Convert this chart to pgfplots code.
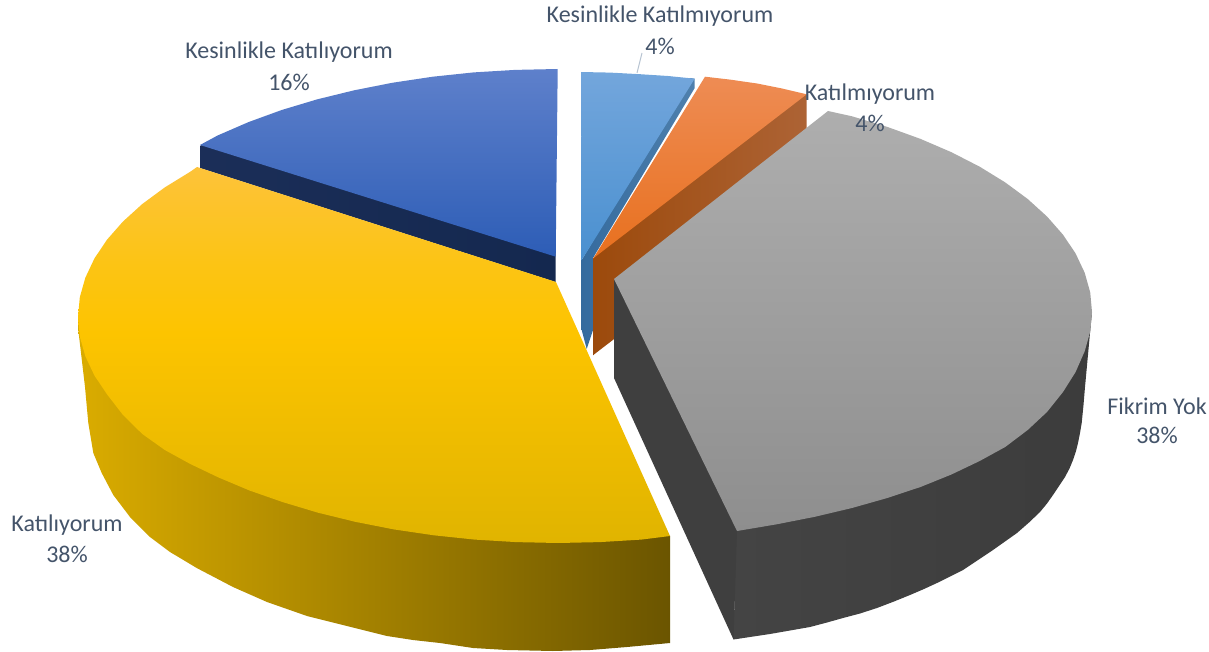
\documentclass[border=0pt]{standalone}
\usepackage{pgfplots}
\pgfplotsset{compat=1.18}
\usepackage{fontspec}
\setmainfont{Carlito}
\definecolor{lab}{HTML}{44546A}
\pgfdeclareverticalshading{yeltop}{100bp}{
  color(0bp)=(rgb,255:red,224;green,180;blue,0);
  color(25bp)=(rgb,255:red,224;green,180;blue,0);
  color(53bp)=(rgb,255:red,253;green,196;blue,0);
  color(62bp)=(rgb,255:red,252;green,196;blue,20);
  color(75bp)=(rgb,255:red,253;green,195;blue,58);
  color(100bp)=(rgb,255:red,253;green,195;blue,58)}
\tikzset{lb/.style={lab,font=\fontsize{24}{26}\selectfont}}
\begin{document}
\begin{tikzpicture}
\path[use as bounding box] (0,0) rectangle (1209pt,652pt);
\begin{axis}[at={(0,0)},anchor=south west,scale only axis,width=1209pt,height=652pt,
  xmin=0,xmax=1209,ymin=0,ymax=652,y dir=reverse,axis lines=none,clip=false,
  every axis plot/.append style={draw=none,no markers,line join=round}]
% Kesinlikle Katilmiyorum: side, top
\addplot[left color={rgb,255:red,53;green,107;blue,158},right color={rgb,255:red,79;green,128;blue,173}] coordinates {(690,78)(694.7,78.7)(694.7,88)(593,258)(593,330)(586.7,349)(581.7,330)(581.7,260)} --cycle;
\addplot[top color={rgb,255:red,115;green,166;blue,220},middle color={rgb,255:red,90;green,155;blue,216},bottom color={rgb,255:red,74;green,144;blue,208}] coordinates {(581,72)(610,72.6)(640,74.2)(668,76)(694.7,78.7)(581.7,260)} --cycle;
\addplot[draw={rgb,255:red,184;green,196;blue,210},line width=1pt] coordinates {(637,73)(642,53)};
% Katilmiyorum: side, top
\addplot[left color={rgb,255:red,156;green,74;blue,12},right color={rgb,255:red,173;green,99;blue,53}] coordinates {(800,95)(806.7,94.3)(806.7,191)(593.3,355)(593.3,258.3)(600,250)} --cycle;
\addplot[top color={rgb,255:red,238;green,140;blue,84},middle color={rgb,255:red,240;green,122;blue,40},bottom color={rgb,255:red,232;green,112;blue,30}] coordinates {(705,76.7)(730,79.6)(757,83.5)(782,88.5)(806.7,94.3)(593.3,258.3)} --cycle;
% Fikrim Yok: curved side, flat side, top
\addplot[left color={rgb,255:red,68;green,68;blue,68},right color={rgb,255:red,60;green,60;blue,60}] coordinates {(733.5,639.5)(750,637)(770,634)(790,630.5)(810,627)(827,622.5)(843,618)(860,613.5)(877,608)(894,601.5)(910,595)(924,589)(937,583)(950,576.5)(963,570)(978,560)(993,550)(1005,541.5)(1017,533)(1029,522.5)(1040,512)(1047,503.5)(1053,495)(1059,486)(1065,477)(1069.5,468.5)(1073,460)(1076,451)(1078,443)(1080,433)(1081.7,423)(1083.5,405)(1085,387)(1087.5,360)(1090,333)(1092,312)(737,500)} --cycle;
\addplot[fill={rgb,255:red,63;green,63;blue,63}] coordinates {(614,279)(614,378)(733.5,639.5)(737,531)(737,500)} --cycle;
\addplot[top color={rgb,255:red,174;green,174;blue,174},bottom color={rgb,255:red,142;green,142;blue,142}] coordinates {(614,279)(828,111)(852,116.3)(887.3,126.9)(920.5,138.9)(951.4,152.2)(979.7,166.7)(1005.2,182.4)(1027.7,199)(1047,216.5)(1063,234.7)(1075.6,253.5)(1084.7,272.8)(1090.2,292.3)(1092,312)(1090.2,331.7)(1084.7,351.2)(1075.6,372)(1063,392)(1047,412)(1027.7,430)(1005.2,447)(979.7,461)(951.4,474.5)(920.5,487)(887.3,498)(852,508)(814.8,516.8)(776.2,524.4)(737,531)} --cycle;
% Kesinlikle Katiliyorum: side, top
\addplot[left color={rgb,255:red,27;green,46;blue,88},right color={rgb,255:red,20;green,40;blue,79}] coordinates {(212,140)(200,146)(200,168)(555.7,282)(555.7,250)} --cycle;
\addplot[top color={rgb,255:red,94;green,128;blue,203},middle color={rgb,255:red,61;green,106;blue,196},bottom color={rgb,255:red,45;green,93;blue,182}] coordinates {(200,145)(217.6,135.5)(248.5,122.1)(281.7,110)(317,99.4)(354.2,90.3)(392.8,82.7)(432.8,76.7)(473.7,72.4)(515.2,69.9)(557.7,69)(555.7,256.7)} --cycle;
% Katiliyorum: side, top
\addplot[left color={rgb,255:red,218;green,172;blue,0},right color={rgb,255:red,107;green,85;blue,0}] coordinates {(78.3,317)(78.3,330)(85,387)(88.3,423)(93.3,453)(101.7,473)(113.3,495)(130,517)(150,537)(170,552)(196.7,568)(233,587)(267,602)(307,616)(347,626)(387,636)(413,640)(440,643)(473,648)(507,650)(553,651)(590,650)(627,647)(670,643)(670,536)(400,400)} --cycle;
\addplot[shading=yeltop] coordinates {(197,167)(190.3,171.7)(164.8,187.4)(142.3,204)(123,221.5)(107,239.7)(94.4,258.5)(85.3,277.8)(79.8,297.3)(78,317)(79.8,336.7)(85.3,356.2)(94.4,375.5)(107,394.3)(123,415)(142.3,434)(164.8,450)(190.3,464)(218.6,477.5)(249.5,490.5)(282.7,502.1)(318,512.7)(355.2,521.8)(393.8,529.4)(433.8,535.3)(474.7,539.6)(516.2,542.1)(558,543)(599.8,542.1)(641.3,539.6)(670,536)(556,282)} --cycle;
\node[lb] at (axis cs:660,16) {Kesinlikle Katılmıyorum};
\node[lb] at (axis cs:660,46) {4\%};
\node[lb] at (axis cs:870,94) {Katılmıyorum};
\node[lb] at (axis cs:870,123) {4\%};
\node[lb] at (axis cs:289,52) {Kesinlikle Katılıyorum};
\node[lb] at (axis cs:289,82) {16\%};
\node[lb] at (axis cs:1157,406) {Fikrim Yok};
\node[lb] at (axis cs:1157,435) {38\%};
\node[lb] at (axis cs:67,525) {Katılıyorum};
\node[lb] at (axis cs:67,554) {38\%};
\end{axis}
\end{tikzpicture}
\end{document}
